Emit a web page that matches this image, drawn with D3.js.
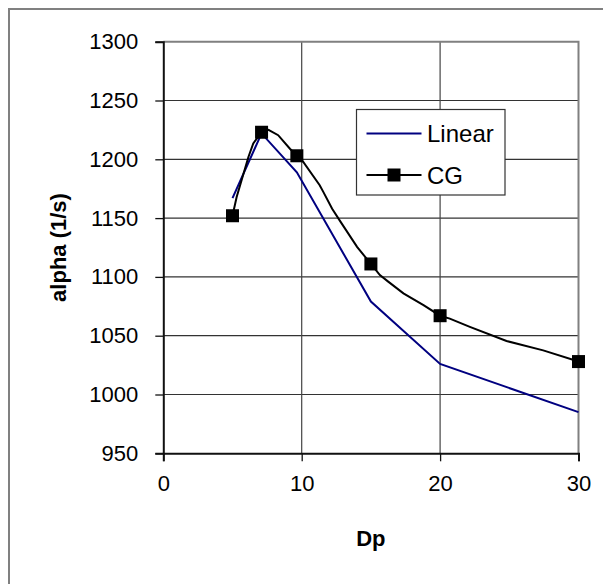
<!DOCTYPE html>
<html>
<head>
<meta charset="utf-8">
<script src="https://cdn.jsdelivr.net/npm/d3@7"></script>
<style>
  body { margin: 0; background: #fff; }
  svg text { font-family: Arial, "Liberation Sans", sans-serif; }
</style>
</head>
<body>
<div id="chart"></div>
<script>
// Linear series (one point per Dp)
const linearDp = [5, 7.1, 9.65, 15, 20, 30];
const linearAlpha = [1167, 1222, 1189, 1079, 1026, 985];

// CG markers
const cgDp = [5, 7.1, 9.65, 15, 20, 30];
const cgAlpha = [1152, 1223, 1203, 1111, 1067, 1028];

// CG smoothed curve as drawn between the markers
const cgCurveDp = [5, 5.3, 6.15, 6.5, 7.1, 7.6, 8.3, 9.15, 9.65, 10.1, 11.3, 11.55, 12.2, 12.8, 14.0, 15, 15.65, 16.25, 17.35, 18.8, 20, 20.7, 22.15, 24.8, 27.45, 30];
const cgCurveAlpha = [1152, 1168, 1202, 1213.5, 1223, 1225, 1220.5, 1209, 1203, 1198, 1178, 1172.5, 1158, 1147, 1125.5, 1111, 1101.5, 1096, 1086, 1076, 1067, 1064.5, 1057.5, 1045.5, 1037.5, 1028];

const xTicks = [0, 10, 20, 30];
const yTicks = [950, 1000, 1050, 1100, 1150, 1200, 1250, 1300];

const W = 603, H = 584;
const plot = { left: 163.3, right: 578.5, top: 41.7, bottom: 453.3 };

const svg = d3.select("#chart").append("svg")
    .attr("width", W)
    .attr("height", H);

// outer chart border (right/bottom run off the image)
svg.append("rect")
    .attr("x", 9).attr("y", 9)
    .attr("width", W + 20).attr("height", H + 20)
    .attr("fill", "white")
    .attr("stroke", "#808080")
    .attr("stroke-width", 2);

const x = d3.scaleLinear().domain([0, 30]).range([plot.left, plot.right]);
const y = d3.scaleLinear().domain([950, 1300]).range([plot.bottom, plot.top]);

// gridlines
svg.append("g")
    .selectAll("line")
    .data(yTicks.slice(1, -1))
    .join("line")
    .attr("x1", plot.left).attr("x2", plot.right)
    .attr("y1", d => y(d)).attr("y2", d => y(d))
    .attr("stroke", "#333")
    .attr("stroke-width", 1.2);

svg.append("g")
    .selectAll("line")
    .data(xTicks.slice(1, -1))
    .join("line")
    .attr("x1", d => x(d)).attr("x2", d => x(d))
    .attr("y1", plot.top).attr("y2", plot.bottom)
    .attr("stroke", "#444")
    .attr("stroke-width", 1.2);

// plot area border top/right
svg.append("path")
    .attr("d", `M${plot.left},${plot.top}H${plot.right}V${plot.bottom}`)
    .attr("fill", "none")
    .attr("stroke", "#808080")
    .attr("stroke-width", 2);

// axes
const yAxis = svg.append("g")
    .attr("transform", `translate(${plot.left},0)`)
    .call(d3.axisLeft(y).tickValues(yTicks).tickSize(8).tickPadding(17).tickFormat(d3.format("d")));
const xAxis = svg.append("g")
    .attr("transform", `translate(0,${plot.bottom})`)
    .call(d3.axisBottom(x).tickValues(xTicks).tickSize(8).tickPadding(14).tickFormat(d3.format("d")));

[yAxis, xAxis].forEach(a => {
    a.select(".domain").attr("stroke", "#111").attr("stroke-width", 2);
    a.selectAll(".tick line").attr("stroke", "#111").attr("stroke-width", 1.3);
    a.selectAll(".tick text").attr("font-size", 22).attr("fill", "#000")
        .style("font-family", "Arial, 'Liberation Sans', sans-serif");
});

// axis titles
svg.append("text")
    .attr("x", (plot.left + plot.right) / 2)
    .attr("y", 546)
    .attr("text-anchor", "middle")
    .attr("font-size", 22)
    .attr("font-weight", "bold")
    .text("Dp");

svg.append("text")
    .attr("transform", `translate(66,${(plot.top + plot.bottom) / 2}) rotate(-90)`)
    .attr("text-anchor", "middle")
    .attr("font-size", 22)
    .attr("font-weight", "bold")
    .text("alpha (1/s)");

// lines
const line = d3.line().x(d => x(d[0])).y(d => y(d[1]));

svg.append("path")
    .datum(linearDp.map((d, i) => [d, linearAlpha[i]]))
    .attr("d", line)
    .attr("fill", "none")
    .attr("stroke", "#000080")
    .attr("stroke-width", 2);

svg.append("path")
    .datum(cgCurveDp.map((d, i) => [d, cgCurveAlpha[i]]))
    .attr("d", line)
    .attr("fill", "none")
    .attr("stroke", "#000")
    .attr("stroke-width", 2);

const ms = 13;
svg.append("g")
    .selectAll("rect")
    .data(cgDp.map((d, i) => [d, cgAlpha[i]]))
    .join("rect")
    .attr("x", d => x(d[0]) - ms / 2)
    .attr("y", d => y(d[1]) - ms / 2)
    .attr("width", ms).attr("height", ms)
    .attr("fill", "#000");

// legend
const lg = svg.append("g").attr("transform", "translate(356.5,109.5)");
lg.append("rect")
    .attr("width", 148.5).attr("height", 85.5)
    .attr("fill", "white")
    .attr("stroke", "#333")
    .attr("stroke-width", 1.2);

lg.append("line")
    .attr("x1", 10).attr("x2", 65)
    .attr("y1", 24).attr("y2", 24)
    .attr("stroke", "#000080").attr("stroke-width", 2);
lg.append("text")
    .attr("x", 70.5).attr("y", 24).attr("dy", "0.36em")
    .attr("font-size", 24)
    .text("Linear");

lg.append("line")
    .attr("x1", 10).attr("x2", 65)
    .attr("y1", 65.5).attr("y2", 65.5)
    .attr("stroke", "#000").attr("stroke-width", 2);
lg.append("rect")
    .attr("x", 37.5 - ms / 2).attr("y", 65.5 - ms / 2)
    .attr("width", ms).attr("height", ms)
    .attr("fill", "#000");
lg.append("text")
    .attr("x", 70.5).attr("y", 65.5).attr("dy", "0.36em")
    .attr("font-size", 24)
    .text("CG");
</script>
</body>
</html>
